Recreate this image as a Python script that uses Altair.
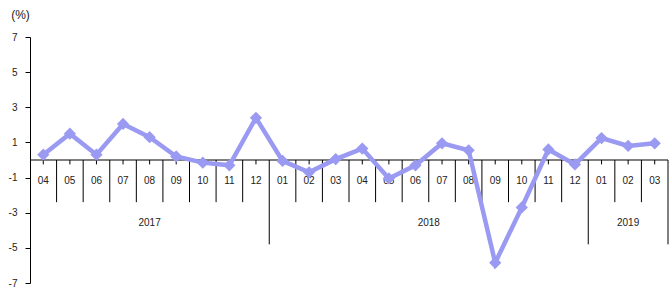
import altair as alt
import pandas as pd

months = ["04","05","06","07","08","09","10","11","12",
          "01","02","03","04","05","06","07","08","09","10","11","12",
          "01","02","03"]
values = [0.3, 1.5, 0.3, 2.05, 1.3, 0.2, -0.15, -0.3, 2.4,
          -0.05, -0.7, 0.05, 0.65, -1.05, -0.3, 0.95, 0.55, -5.85, -2.7, 0.6, -0.25,
          1.25, 0.8, 0.95]
years = ["2017", "2018", "2019"]
year_start = [0, 9, 21]
year_end = [9, 21, 24]
y_ticks = [-7, -5, -3, -1, 1, 3, 5, 7]

n = len(months)
df = pd.DataFrame({"pos": [i + 0.5 for i in range(n)], "month": months, "value": values,
                   "t0": [0.0] * n, "t1": [-0.25] * n, "ml": [-1.2] * n})

sep_rows = []
for b in range(1, n + 1):
    long_ = b in year_end
    sep_rows.append({"x": b, "y0": 0.0, "y1": -4.8 if long_ else -2.4})
sep = pd.DataFrame(sep_rows)
yr = pd.DataFrame({"year": years,
                   "mid": [(s + e) / 2 for s, e in zip(year_start, year_end)],
                   "yl": [-3.6] * len(years)})

FONT = "Liberation Sans"
LINE = "#9a9af2"

xs = alt.Scale(domain=[0, n], nice=False, zero=False)
ys = alt.Scale(domain=[-7, 7], nice=False)

yaxis = alt.Axis(values=y_ticks, tickCount=20, grid=False, labelOverlap=False, labelFlush=False,
                 labelExpr="toString(datum.value)",
                 domainColor="black", tickColor="black", tickSize=5,
                 labelFont=FONT, labelFontSize=10, labelColor="#222",
                 labelPadding=8, title="(%)", titleAngle=0,
                 titleFont=FONT, titleFontSize=12, titleFontWeight="normal",
                 titleX=-10, titleY=-16, titleAlign="center", titleColor="#222")

zero = alt.Chart(pd.DataFrame({"a": [0.0], "b": [float(n)], "z": [0.0]})).mark_rule(
    color="black", strokeWidth=1).encode(
    x=alt.X("a:Q", scale=xs, axis=None), x2="b:Q",
    y=alt.Y("z:Q", scale=ys, axis=yaxis))
seps = alt.Chart(sep).mark_rule(color="black", strokeWidth=1).encode(
    x=alt.X("x:Q", scale=xs), y=alt.Y("y0:Q", scale=ys), y2="y1:Q")
cticks = alt.Chart(df).mark_rule(color="black", strokeWidth=1).encode(
    x=alt.X("pos:Q", scale=xs), y=alt.Y("t0:Q", scale=ys), y2="t1:Q")
mlab = alt.Chart(df).mark_text(font=FONT, fontSize=10, color="#222").encode(
    x=alt.X("pos:Q", scale=xs), y=alt.Y("ml:Q", scale=ys), text="month:N")
ylab = alt.Chart(yr).mark_text(font=FONT, fontSize=10, color="#222").encode(
    x=alt.X("mid:Q", scale=xs), y=alt.Y("yl:Q", scale=ys), text="year:N")
line = alt.Chart(df).mark_line(color=LINE, strokeWidth=4.5).encode(
    x=alt.X("pos:Q", scale=xs), y=alt.Y("value:Q", scale=ys))
pts = alt.Chart(df).mark_point(shape="diamond", filled=True, size=150, color=LINE, opacity=1).encode(
    x=alt.X("pos:Q", scale=xs), y=alt.Y("value:Q", scale=ys))

chart = alt.layer(zero, seps, cticks, mlab, ylab, line, pts).properties(
    width=638, height=246,
    padding={"left": 30, "top": 37, "right": 4, "bottom": 10},
    autosize=alt.AutoSizeParams(type="none"),
    background="white",
).configure_view(stroke=None).configure_axis(labelOverlap=False, labelFlush=False)

chart.save("out.html", embed_options={"renderer": "svg", "actions": False})
